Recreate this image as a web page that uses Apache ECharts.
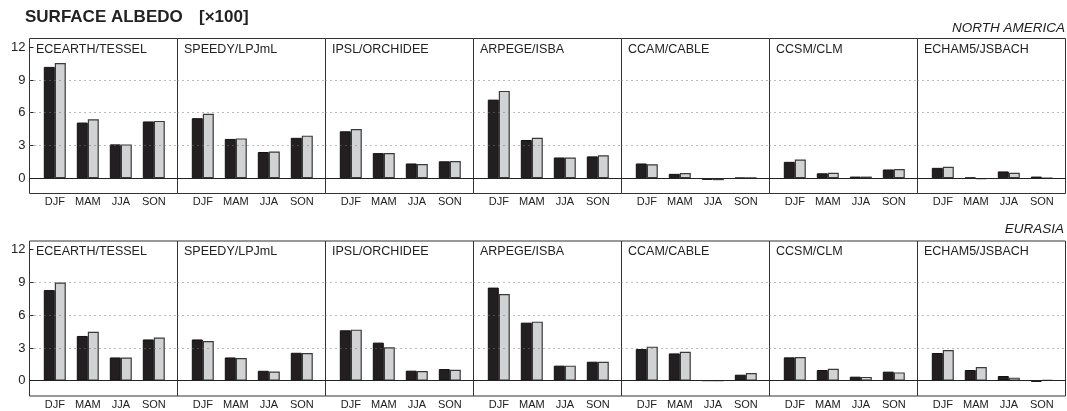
<!DOCTYPE html>
<html>
<head>
<meta charset="utf-8">
<script src="https://cdn.jsdelivr.net/npm/echarts@6/dist/echarts.min.js"></script>
<style>html,body{margin:0;padding:0;background:#fff;}#chart{width:1067px;height:411px;}</style>
</head>
<body>
<div id="chart"></div>
<script>
// ---- data ----
const seasons = ['DJF', 'MAM', 'JJA', 'SON'];
const models = ['ECEARTH/TESSEL', 'SPEEDY/LPJmL', 'IPSL/ORCHIDEE', 'ARPEGE/ISBA', 'CCAM/CABLE', 'CCSM/CLM', 'ECHAM5/JSBACH'];
const regions = ['NORTH AMERICA', 'EURASIA'];
const yTicks = [0, 3, 6, 9, 12];
const gridLines = [3, 6, 9];

// North America: black bars and grey bars, per model [DJF, MAM, JJA, SON]
const naBlack = [
  [10.2, 5.1, 3.1, 5.2],
  [5.5, 3.6, 2.4, 3.7],
  [4.3, 2.3, 1.35, 1.55],
  [7.2, 3.5, 1.9, 2.0],
  [1.35, 0.4, -0.15, 0.03],
  [1.5, 0.45, 0.15, 0.8],
  [0.95, 0.05, 0.62, 0.15]
];
const naGray = [
  [10.55, 5.4, 3.1, 5.25],
  [5.9, 3.65, 2.45, 3.9],
  [4.5, 2.3, 1.3, 1.58],
  [8.0, 3.7, 1.9, 2.1],
  [1.28, 0.48, -0.18, 0.05],
  [1.72, 0.5, 0.15, 0.85],
  [1.05, -0.08, 0.5, 0.03]
];
// Eurasia
const euBlack = [
  [8.3, 4.1, 2.13, 3.78],
  [3.78, 2.13, 0.91, 2.56],
  [4.62, 3.49, 0.92, 1.07],
  [8.53, 5.32, 1.38, 1.74],
  [2.9, 2.5, 0.02, 0.55],
  [2.14, 0.98, 0.37, 0.83],
  [2.54, 0.98, 0.43, -0.1]
];
const euGray = [
  [9.0, 4.48, 2.13, 3.96],
  [3.63, 2.07, 0.85, 2.53],
  [4.68, 3.06, 0.89, 1.01],
  [7.95, 5.41, 1.38, 1.74],
  [3.12, 2.66, 0.02, 0.7],
  [2.17, 1.1, 0.35, 0.76],
  [2.81, 1.25, 0.28, 0.05]
];

// ---- layout ----
const FONT = '"Liberation Sans", Arial, Helvetica, sans-serif';
const Y_MIN = -1.4, Y_MAX = 12.8;
const panelLeft0 = 29.5, panelW = 148;
const rowTops = [38.5, 241];
const rowH = 155;
const dataOffset = 8.8, dataW = 132;
const rowBlack = [naBlack, euBlack];
const rowGray = [naGray, euGray];

const grid = [], xAxis = [], yAxis = [], series = [], title = [];

title.push({ text: 'SURFACE ALBEDO', left: 25, top: 9, padding: 0,
  textStyle: { fontFamily: FONT, fontSize: 17, fontWeight: 'bold', color: '#222' } });
title.push({ text: '[\u00d7100]', left: 199, top: 9, padding: 0,
  textStyle: { fontFamily: FONT, fontSize: 17, fontWeight: 'bold', color: '#222' } });
title.push({ text: regions[0], right: 2, top: 21, padding: 0,
  textStyle: { fontFamily: FONT, fontSize: 13.5, fontStyle: 'italic', fontWeight: 'normal', color: '#222' } });
title.push({ text: regions[1], right: 3, top: 222, padding: 0,
  textStyle: { fontFamily: FONT, fontSize: 13.5, fontStyle: 'italic', fontWeight: 'normal', color: '#222' } });

for (let r = 0; r < 2; r++) {
  for (let p = 0; p < models.length; p++) {
    const left = panelLeft0 + p * panelW;
    const top = rowTops[r];
    // frame grid (full panel)
    const fi = grid.length;
    grid.push({ left: left, top: top, width: panelW, height: rowH, show: true,
      borderColor: '#333', borderWidth: 1, backgroundColor: 'transparent', containLabel: false });
    xAxis.push({ gridIndex: fi, type: 'value', min: 0, max: 1, show: false });
    yAxis.push({ gridIndex: fi, type: 'value', min: Y_MIN, max: Y_MAX, show: p === 0,
      axisLine: { show: false },
      splitLine: { show: false },
      axisTick: { show: true, inside: true, length: 4, customValues: [3, 6, 9, 12],
        lineStyle: { color: '#222', width: 1 } },
      axisLabel: { customValues: yTicks, fontFamily: FONT, fontSize: 13, color: '#222', margin: 4 } });
    series.push({ type: 'line', xAxisIndex: fi, yAxisIndex: fi, data: [], symbol: 'none', silent: true,
      z: 1,
      markLine: { silent: true, symbol: 'none', animation: false, label: { show: false },
        data: gridLines.map(v => ({ yAxis: v, lineStyle: { type: [1, 4], color: '#777', width: 1 } }))
          .concat([{ yAxis: 0, lineStyle: { type: 'solid', color: '#222', width: 1 } }]) } });
    // title in panel
    title.push({ text: models[p], left: left + 6.5, top: top + 4.5, padding: 0,
      textStyle: { fontFamily: FONT, fontSize: 12.5, fontWeight: 'normal', color: '#222' } });
    // data grid
    const di = grid.length;
    grid.push({ left: left + dataOffset, top: top, width: dataW, height: rowH, show: false, containLabel: false });
    xAxis.push({ gridIndex: di, type: 'category', data: seasons,
      axisLine: { show: false, onZero: false }, axisTick: { show: false },
      axisLabel: { interval: 0, hideOverlap: false, fontFamily: FONT, fontSize: 11, color: '#222', margin: 3 } });
    yAxis.push({ gridIndex: di, type: 'value', min: Y_MIN, max: Y_MAX, show: false });
    series.push({ type: 'bar', xAxisIndex: di, yAxisIndex: di, data: rowBlack[r][p],
      barWidth: 11, barGap: '0%', z: 3,
      itemStyle: { color: '#231f20', borderColor: '#111', borderWidth: 1 } });
    series.push({ type: 'bar', xAxisIndex: di, yAxisIndex: di, data: rowGray[r][p],
      barWidth: 11, barGap: '0%', z: 3,
      itemStyle: { color: '#d1d2d4', borderColor: '#3a3a3a', borderWidth: 1.2 } });
  }
}

const chart = echarts.init(document.getElementById('chart'), null, { renderer: 'canvas' });
chart.setOption({ animation: false, backgroundColor: '#fff', title, grid, xAxis, yAxis, series });
</script>
</body>
</html>
